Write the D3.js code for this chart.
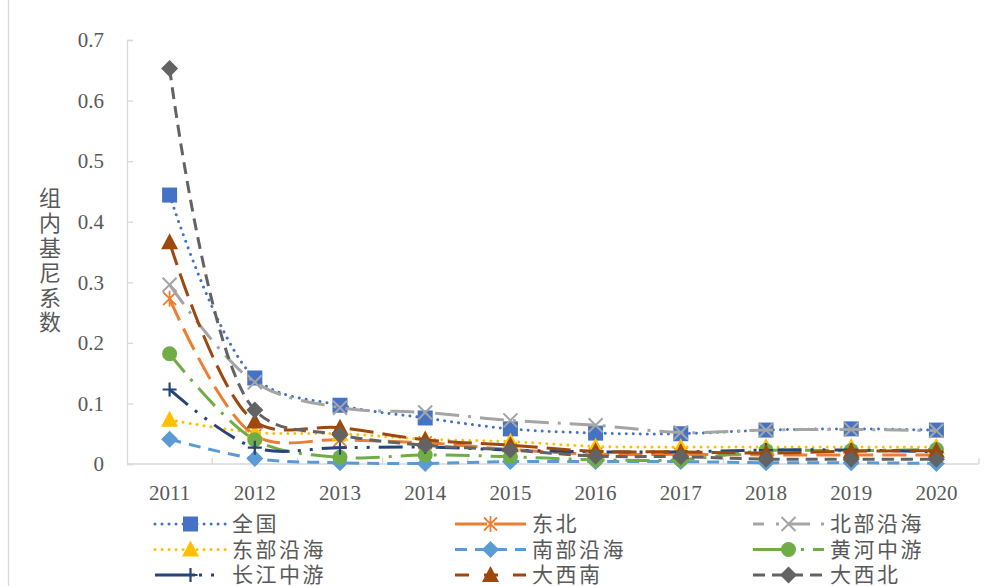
<!DOCTYPE html>
<html>
<head>
<meta charset="utf-8">
<script src="https://cdn.jsdelivr.net/npm/d3@7"></script>
<style>
  html, body { margin: 0; padding: 0; background: #fff; }
  svg { display: block; }
</style>
</head>
<body>
<svg id="chart" width="993" height="586"></svg>
<script>
// Categories and series (组内基尼系数, 2011–2020)
const years = ["2011", "2012", "2013", "2014", "2015", "2016", "2017", "2018", "2019", "2020"];
const yTicks = [0, 0.1, 0.2, 0.3, 0.4, 0.5, 0.6, 0.7];
const yTickLabels = ["0", "0.1", "0.2", "0.3", "0.4", "0.5", "0.6", "0.7"];
const seriesNames = ["全国", "东北", "北部沿海", "东部沿海", "南部沿海", "黄河中游", "长江中游", "大西南", "大西北"];

const quanguo    = [0.444, 0.142, 0.097, 0.076, 0.058, 0.051, 0.050, 0.056, 0.058, 0.056];
const dongbei    = [0.273, 0.047, 0.040, 0.035, 0.024, 0.016, 0.016, 0.015, 0.015, 0.015];
const beibu      = [0.296, 0.135, 0.093, 0.085, 0.072, 0.064, 0.052, 0.056, 0.057, 0.055];
const dongbu     = [0.073, 0.052, 0.050, 0.041, 0.037, 0.029, 0.028, 0.028, 0.028, 0.028];
const nanbu      = [0.041, 0.009, 0.002, 0.001, 0.004, 0.004, 0.004, 0.002, 0.002, 0.001];
const huanghe    = [0.182, 0.040, 0.011, 0.015, 0.012, 0.007, 0.007, 0.022, 0.022, 0.024];
const changjiang = [0.123, 0.027, 0.027, 0.028, 0.023, 0.020, 0.020, 0.023, 0.023, 0.020];
const daxinan    = [0.366, 0.070, 0.060, 0.040, 0.031, 0.021, 0.020, 0.018, 0.021, 0.022];
const daxibei    = [0.653, 0.089, 0.048, 0.031, 0.023, 0.013, 0.012, 0.008, 0.008, 0.008];

const seriesValues = [quanguo, dongbei, beibu, dongbu, nanbu, huanghe, changjiang, daxinan, daxibei];

// Styling per series: colour, dash pattern, marker type (legendDash: pattern used in the key)
const styles = [
  { color: "#4472C4", dash: "0.01 7",       legendDash: "0.01 7",            cap: "round", marker: "square" },
  { color: "#ED7D31", dash: "24 9",         legendDash: "32 7 32",           cap: "butt",  marker: "asterisk" },
  { color: "#A5A5A5", dash: "24 9 3 9",     legendDash: "11 12 3 9 22",      cap: "butt",  marker: "x" },
  { color: "#FFC000", dash: "0.01 7",       legendDash: "0.01 7",            cap: "round", marker: "triangle" },
  { color: "#5B9BD5", dash: "12 8",         legendDash: "12 8",              cap: "butt",  marker: "diamond" },
  { color: "#70AD47", dash: "24 9 3 9",     legendDash: "42 6 3 9 11",       cap: "butt",  marker: "circle" },
  { color: "#264478", dash: "24 9 3 9 3 9", legendDash: "40 4 3 9 3 12",     cap: "butt",  marker: "plus" },
  { color: "#9E480E", dash: "24 9",         legendDash: "14 15 14 15 14",    cap: "butt",  marker: "triangle" },
  { color: "#636363", dash: "12 7",         legendDash: "12 7",              cap: "butt",  marker: "diamond" }
];

const svg = d3.select("#chart");
const plot = { left: 127, right: 979, top: 40, bottom: 464 };

const x = d3.scaleBand().domain(years).range([plot.left, plot.right]);
const y = d3.scaleLinear().domain([0, 0.7]).range([plot.bottom, plot.top]);
const cx = d => x(d) + x.bandwidth() / 2;

const axisColor = "#D9D9D9";
const textColor = "#595959";
const serif = "'Liberation Serif', 'Times New Roman', serif";
const cjk = "'Noto Sans CJK SC', 'Noto Sans', sans-serif";

// chart area border on the left
svg.append("line")
  .attr("x1", 8.5).attr("x2", 8.5).attr("y1", 0).attr("y2", 586)
  .attr("stroke", axisColor).attr("stroke-width", 1.3);

// Y axis (ticks pointing inward)
const yAxis = d3.axisRight(y).tickValues(yTicks).tickSize(6).tickFormat("");
const gy = svg.append("g").attr("transform", `translate(${plot.left},0)`).call(yAxis);
gy.select(".domain").attr("stroke", axisColor).attr("stroke-width", 1.3);
gy.selectAll(".tick line").attr("stroke", axisColor).attr("stroke-width", 1.3);

svg.append("g").selectAll("text")
  .data(yTicks)
  .join("text")
  .attr("x", 104)
  .attr("y", d => y(d))
  .attr("dy", "0.35em")
  .attr("text-anchor", "end")
  .attr("font-family", serif)
  .attr("font-size", 21)
  .attr("fill", textColor)
  .text((d, i) => yTickLabels[i]);

// X axis line with upward tick marks between categories
svg.append("line")
  .attr("x1", plot.left).attr("x2", plot.right)
  .attr("y1", plot.bottom).attr("y2", plot.bottom)
  .attr("stroke", axisColor).attr("stroke-width", 1.3);
const bounds = years.map(d => x(d)).concat([plot.right]);
svg.append("g").selectAll("line")
  .data(bounds.slice(1))
  .join("line")
  .attr("x1", d => d).attr("x2", d => d)
  .attr("y1", plot.bottom).attr("y2", plot.bottom - 6)
  .attr("stroke", axisColor).attr("stroke-width", 1.3);

svg.append("g").selectAll("text")
  .data(years)
  .join("text")
  .attr("x", d => cx(d))
  .attr("y", 493)
  .attr("dy", "0.35em")
  .attr("text-anchor", "middle")
  .attr("font-family", serif)
  .attr("font-size", 21)
  .attr("fill", textColor)
  .text(d => d);

// Y axis title, set vertically
svg.append("text")
  .attr("x", 50)
  .attr("y", 187)
  .style("writing-mode", "vertical-rl")
  .style("letter-spacing", "2.8px")
  .attr("font-family", cjk)
  .attr("font-size", 22)
  .attr("fill", textColor)
  .text("组内基尼系数");

// Marker drawing
function drawMarker(g, type, color, px, py) {
  const s = 7.5;
  switch (type) {
    case "square":
      g.append("rect").attr("x", px - s).attr("y", py - s).attr("width", 2 * s).attr("height", 2 * s)
        .attr("fill", color);
      break;
    case "triangle":
      g.append("path").attr("d", `M${px},${py - 9}L${px + 8.5},${py + 7}L${px - 8.5},${py + 7}Z`)
        .attr("fill", color);
      break;
    case "diamond":
      g.append("path").attr("d", `M${px},${py - 8.5}L${px + 8.5},${py}L${px},${py + 8.5}L${px - 8.5},${py}Z`)
        .attr("fill", color);
      break;
    case "circle":
      g.append("circle").attr("cx", px).attr("cy", py).attr("r", 7.5).attr("fill", color);
      break;
    case "x":
      g.append("path").attr("d", `M${px - 7},${py - 7}L${px + 7},${py + 7}M${px + 7},${py - 7}L${px - 7},${py + 7}`)
        .attr("stroke", color).attr("stroke-width", 2).attr("fill", "none");
      break;
    case "plus":
      g.append("path").attr("d", `M${px - 7},${py}L${px + 7},${py}M${px},${py - 7}L${px},${py + 7}`)
        .attr("stroke", color).attr("stroke-width", 2.2).attr("fill", "none");
      break;
    case "asterisk":
      g.append("path").attr("d",
        `M${px - 6.5},${py - 6.5}L${px + 6.5},${py + 6.5}M${px + 6.5},${py - 6.5}L${px - 6.5},${py + 6.5}M${px},${py - 8}L${px},${py + 8}`)
        .attr("stroke", color).attr("stroke-width", 1.8).attr("fill", "none");
      break;
  }
}

// Series lines (smoothed) and markers
const line = d3.line()
  .x((d, i) => cx(years[i]))
  .y(d => y(d))
  .curve(d3.curveCatmullRom.alpha(0.5));

const seriesLayer = svg.append("g");
seriesValues.forEach((vals, k) => {
  const st = styles[k];
  const g = seriesLayer.append("g");
  g.append("path")
    .datum(vals)
    .attr("d", line)
    .attr("fill", "none")
    .attr("stroke", st.color)
    .attr("stroke-width", 3)
    .attr("stroke-dasharray", st.dash)
    .attr("stroke-linecap", st.cap);
  vals.forEach((v, i) => drawMarker(g, st.marker, st.color, cx(years[i]), y(v)));
});

// Legend: 3 columns x 3 rows
const legendCols = [155, 455, 753];
const legendRows = [524, 549.5, 575];
const sampleLen = 71;
const legend = svg.append("g");
seriesNames.forEach((name, k) => {
  const st = styles[k];
  const lx = legendCols[k % 3];
  const ly = legendRows[Math.floor(k / 3)];
  const g = legend.append("g");
  g.append("line")
    .attr("x1", lx).attr("x2", lx + sampleLen)
    .attr("y1", ly).attr("y2", ly)
    .attr("stroke", st.color).attr("stroke-width", 3)
    .attr("stroke-dasharray", st.legendDash)
    .attr("stroke-linecap", st.cap);
  drawMarker(g, st.marker, st.color, lx + sampleLen / 2, ly);
  g.append("text")
    .attr("x", lx + sampleLen + 6)
    .attr("y", ly)
    .attr("dy", "0.35em")
    .style("letter-spacing", "2.5px")
    .attr("font-family", cjk)
    .attr("font-size", 21)
    .attr("fill", textColor)
    .text(name);
});
</script>
</body>
</html>
